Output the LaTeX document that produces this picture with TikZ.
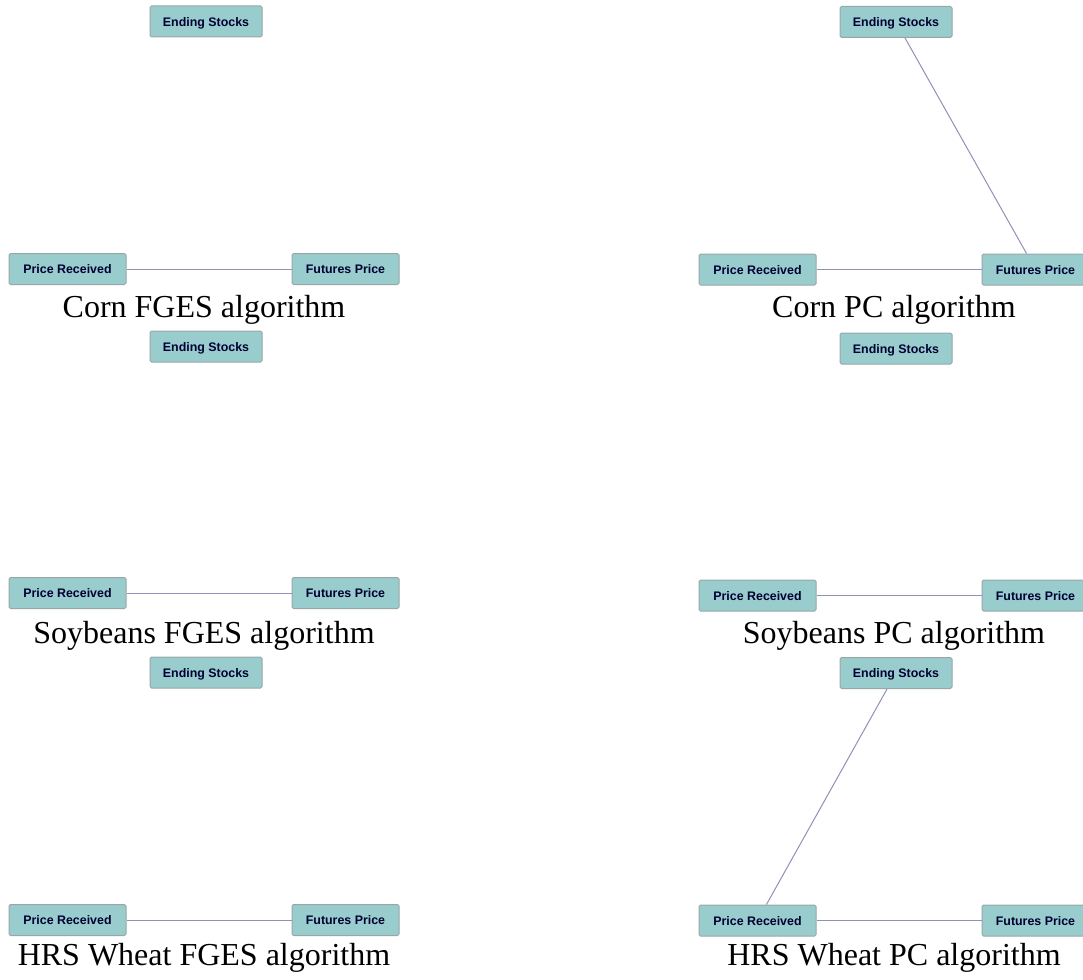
\documentclass[tikz,border=0pt]{standalone}
\usepackage{fontspec}
\setmainfont{Liberation Serif}
\newfontfamily\nodefont{Liberation Sans}
\definecolor{boxfill}{HTML}{99CCCC}
\definecolor{boxline}{HTML}{9AA6A6}
\definecolor{boxtext}{HTML}{000033}
\definecolor{edgecol}{HTML}{9090B8}
\tikzset{
  var/.style={draw=boxline, fill=boxfill, rounded corners=1.5pt, line width=1pt,
    minimum height=31pt, inner sep=0pt, text=boxtext, text height=9.5pt, text depth=0pt,
    font=\nodefont\bfseries\fontsize{12.4}{14}\selectfont},
  es/.style={var, minimum width=112pt},
  pr/.style={var, minimum width=117pt},
  fp/.style={var, minimum width=107pt},
  edge/.style={draw=edgecol, line width=1pt},
  caption/.style={anchor=base, inner sep=0pt, font=\fontsize{32}{36}\selectfont}
}
\begin{document}
\begin{tikzpicture}[x=1pt,y=-1pt]
\useasboundingbox (0,0) rectangle (1083,979);
\clip (0,0) rectangle (1083,979);
% Corn FGES
\node[es] (es1) at (206,21.5) {Ending Stocks};
\node[pr] (pr1) at (67.5,269) {Price Received};
\node[fp] (fp1) at (345.5,269) {Futures Price};
\draw[edge] (pr1) -- (fp1);
\node[caption] (c1) at (204,317) {Corn FGES algorithm};
% Soybeans FGES
\node[es] (es2) at (206,346.5) {Ending Stocks};
\node[pr] (pr2) at (67.5,593) {Price Received};
\node[fp] (fp2) at (345.5,593) {Futures Price};
\draw[edge] (pr2) -- (fp2);
\node[caption] (c2) at (204,643) {Soybeans FGES algorithm};
% HRS Wheat FGES
\node[es] (es3) at (206,672.5) {Ending Stocks};
\node[pr] (pr3) at (67.5,920) {Price Received};
\node[fp] (fp3) at (345.5,920) {Futures Price};
\draw[edge] (pr3) -- (fp3);
\node[caption] (c3) at (204,965) {HRS Wheat FGES algorithm};
% Corn PC
\node[es] (es4) at (896,22) {Ending Stocks};
\node[pr] (pr4) at (757.5,269.5) {Price Received};
\node[fp] (fp4) at (1035.5,269.5) {Futures Price};
\draw[edge] (pr4) -- (fp4);
\draw[edge] (es4) -- (fp4);
\node[caption] (c4) at (894,317) {Corn PC algorithm};
% Soybeans PC
\node[es] (es5) at (896,348.5) {Ending Stocks};
\node[pr] (pr5) at (757.5,595.5) {Price Received};
\node[fp] (fp5) at (1035.5,595.5) {Futures Price};
\draw[edge] (pr5) -- (fp5);
\node[caption] (c5) at (894,643) {Soybeans PC algorithm};
% HRS Wheat PC
\node[es] (es6) at (896,673) {Ending Stocks};
\node[pr] (pr6) at (757.5,920.5) {Price Received};
\node[fp] (fp6) at (1035.5,920.5) {Futures Price};
\draw[edge] (pr6) -- (fp6);
\draw[edge] (es6) -- (pr6);
\node[caption] (c6) at (894,965) {HRS Wheat PC algorithm};
\end{tikzpicture}
\end{document}
